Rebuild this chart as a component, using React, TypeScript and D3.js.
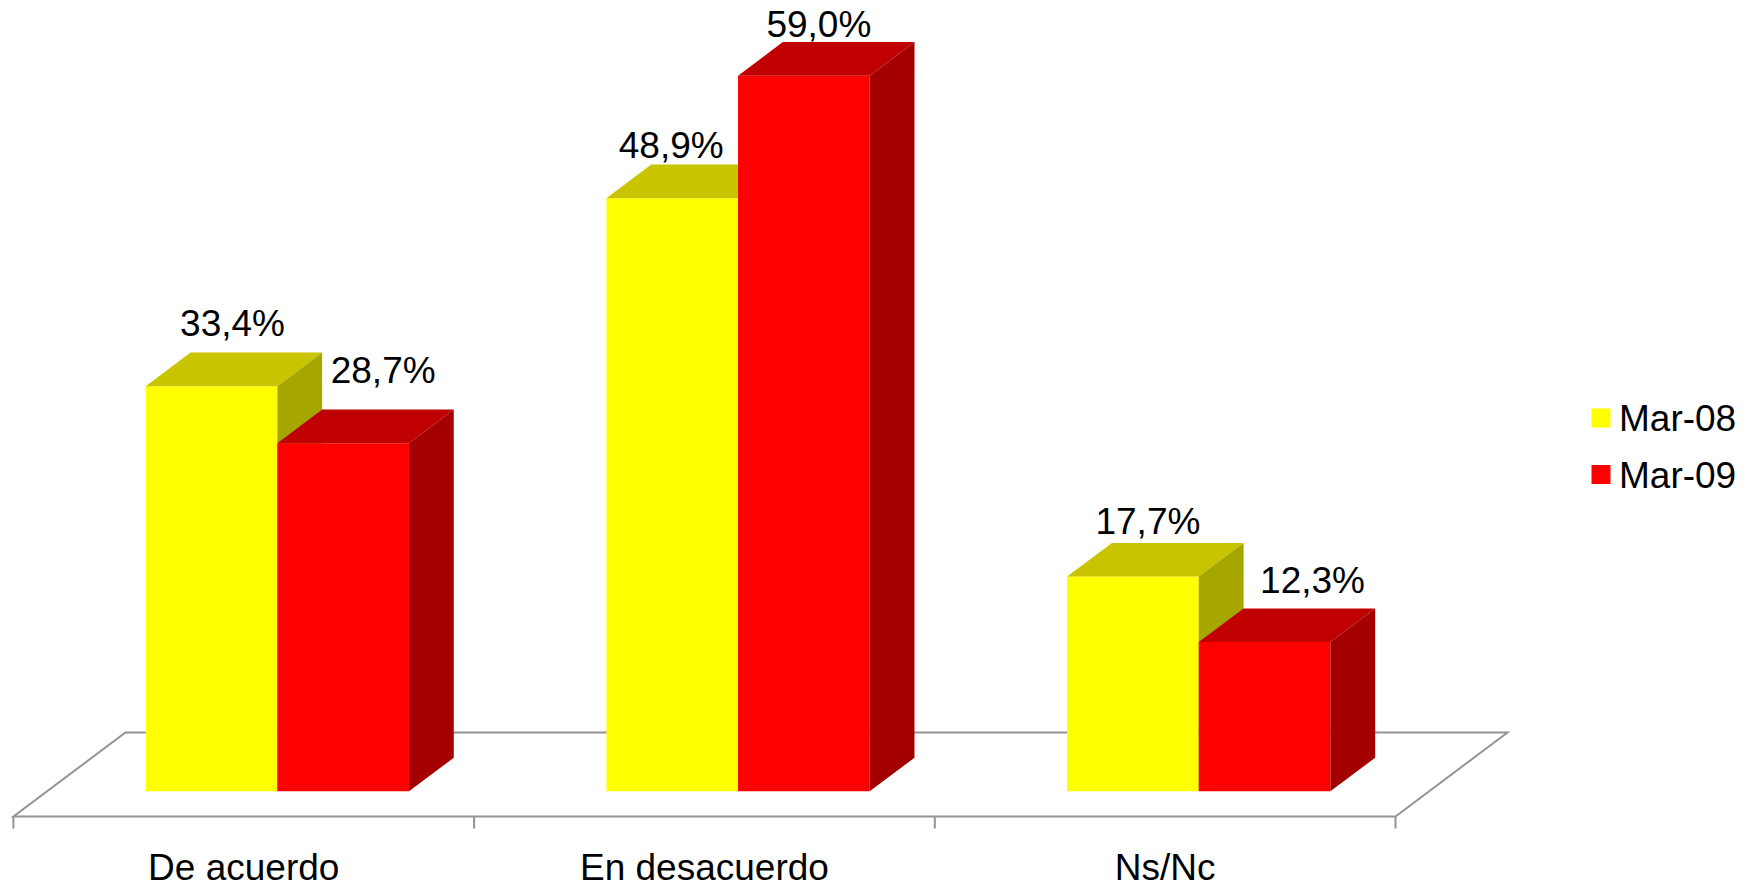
import React from "react";
import * as d3 from "d3";

const categories = ["De acuerdo", "En desacuerdo", "Ns/Nc"];
const seriesNames = ["Mar-08", "Mar-09"];
const mar08 = [33.4, 48.9, 17.7];
const mar09 = [28.7, 59.0, 12.3];
const seriesValues = [mar08, mar09];

// layout / style (not data)
const W = 1752;
const H = 889;
const FONT = "'Liberation Sans', Arial, sans-serif";
const FS = 37;
const floorFrontY = 816.5;
const floorLeft = 13.4;
const floorRight = 1395.5;
const depthDX = 112;
const depthDY = 84;
const barDepthStart = 0.3;
const barDepthEnd = 0.7;
const frontFill = ["#FFFF00", "#FF0000"];
const topFill = ["#C8C400", "#C00000"];
const sideFill = ["#A6A600", "#A40000"];
// label nudges in px relative to bar front-centre / back top edge
const labelNudgeX = [
  [21, 40],
  [-1, 15],
  [15, 48],
];
const labelNudgeY = [
  [-17, -27],
  [-7, -5],
  [-9, -16],
];

function pct(v: number) {
  return v.toFixed(1).replace(".", ",") + "%";
}

export default function App() {
  const band = d3.scaleBand<string>().domain(categories).range([floorLeft, floorRight]).paddingInner(0).paddingOuter(0);
  const bw = band.bandwidth();
  const w = bw / 3.5;
  const baseY = floorFrontY - barDepthStart * depthDY;
  const y = d3.scaleLinear().domain([0, 60]).range([baseY, baseY - 727.8]);
  const ddx = (barDepthEnd - barDepthStart) * depthDX;
  const ddy = (barDepthEnd - barDepthStart) * depthDY;
  const offX = barDepthStart * depthDX;

  const poly = (pts: [number, number][]) => pts.map((p) => p.join(",")).join(" ");
  const floorColor = "#949494";

  const bars: React.ReactNode[] = [];
  const labels: React.ReactNode[] = [];
  categories.forEach((c, ci) => {
    seriesValues.forEach((vals, si) => {
      const x0 = (band(c) as number) + 0.75 * w + si * w + offX;
      const x1 = x0 + w;
      const yt = y(vals[ci]);
      const yb = baseY;
      bars.push(
        <g key={`b${ci}-${si}`}>
          <polygon points={poly([[x0, yb], [x1, yb], [x1, yt], [x0, yt]])} fill={frontFill[si]} />
          <polygon points={poly([[x0, yt], [x1, yt], [x1 + ddx, yt - ddy], [x0 + ddx, yt - ddy]])} fill={topFill[si]} />
          <polygon points={poly([[x1, yb], [x1 + ddx, yb - ddy], [x1 + ddx, yt - ddy], [x1, yt]])} fill={sideFill[si]} />
        </g>
      );
      labels.push(
        <text
          key={`l${ci}-${si}`}
          x={(x0 + x1) / 2 + labelNudgeX[ci][si]}
          y={yt - ddy + labelNudgeY[ci][si]}
          textAnchor="middle"
          fontFamily={FONT}
          fontSize={FS}
          fill="#000"
        >
          {pct(vals[ci])}
        </text>
      );
    });
  });

  const ticks = [...categories.map((c) => band(c) as number), floorRight];

  return (
    <svg
      width={W}
      height={H}
      viewBox={`0 0 ${W} ${H}`}
      style={{ position: "absolute", left: 0, top: 0, display: "block", background: "#fff" }}
    >
      <rect x={0} y={0} width={W} height={H} fill="#fff" />
      {/* floor */}
      <polygon
        points={poly([
          [floorLeft, floorFrontY],
          [floorRight, floorFrontY],
          [floorRight + depthDX, floorFrontY - depthDY],
          [floorLeft + depthDX, floorFrontY - depthDY],
        ])}
        fill="#fff"
        stroke={floorColor}
        strokeWidth={2}
      />
      {ticks.map((t, i) => (
        <line key={`t${i}`} x1={t} x2={t} y1={floorFrontY} y2={floorFrontY + 12} stroke={floorColor} strokeWidth={2} />
      ))}
      {bars}
      {labels}
      {categories.map((c) => (
        <text
          key={`c${c}`}
          x={(band(c) as number) + bw / 2}
          y={880}
          textAnchor="middle"
          fontFamily={FONT}
          fontSize={FS}
          fill="#000"
        >
          {c}
        </text>
      ))}
      {seriesNames.map((s, i) => (
        <g key={`lg${s}`}>
          <rect x={1591.5} y={408.5 + i * 56.5} width={19} height={19} fill={frontFill[i]} />
          <text x={1619} y={431 + i * 56.5} fontFamily={FONT} fontSize={FS} fill="#000">
            {s}
          </text>
        </g>
      ))}
    </svg>
  );
}
